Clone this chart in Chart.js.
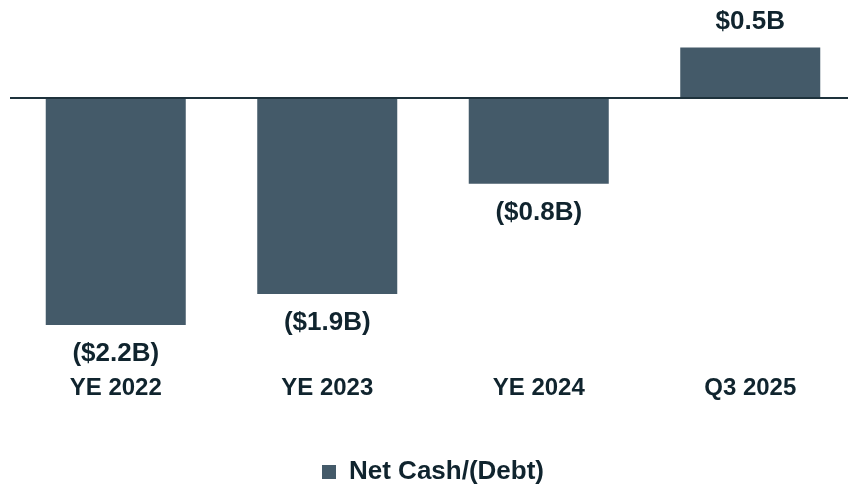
<!DOCTYPE html>
<html>
<head>
<meta charset="utf-8">
<script src="https://cdn.jsdelivr.net/npm/chart.js@4.4.1/dist/chart.umd.min.js"></script>
<style>
  html, body { margin: 0; padding: 0; background: #fff; overflow: hidden; }
  #wrap { width: 856px; height: 495px; }
</style>
</head>
<body>
<div id="wrap"><canvas id="myChart-NetCash"></canvas></div>
<script>
const periods = ['YE 2022', 'YE 2023', 'YE 2024', 'Q3 2025'];
const netCash = [-2.2, -1.9, -0.83, 0.49];
const valueLabels = ['($2.2B)', '($1.9B)', '($0.8B)', '$0.5B'];

const barColor = 'rgb(68, 90, 105)';
const textColor = 'rgb(16, 36, 46)';
const fontFamily = '"Liberation Sans", Arial, sans-serif';

// value labels under/over each bar, plus the zero line
const barLabels = {
  id: 'barLabels',
  afterDatasetsDraw(chart) {
    const ctx = chart.ctx;
    const y0 = chart.scales.y.getPixelForValue(0);
    ctx.save();
    ctx.strokeStyle = 'rgb(30, 50, 60)';
    ctx.lineWidth = 2;
    ctx.beginPath();
    ctx.moveTo(10, y0);
    ctx.lineTo(chart.width, y0);
    ctx.stroke();

    ctx.font = 'bold 26px ' + fontFamily;
    ctx.fillStyle = textColor;
    ctx.textAlign = 'center';
    ctx.textBaseline = 'middle';
    chart.getDatasetMeta(0).data.forEach((bar, i) => {
      const y = netCash[i] < 0 ? bar.y + 29 : bar.y - 26;
      ctx.fillText(valueLabels[i], bar.x, y);
    });
    ctx.restore();
  }
};

new Chart(document.getElementById('myChart-NetCash'), {
  type: 'bar',
  data: {
    labels: periods,
    datasets: [{
      label: 'Net Cash/(Debt)',
      data: netCash,
      backgroundColor: barColor,
      borderWidth: 0,
      categoryPercentage: 1,
      barPercentage: 0.662
    }]
  },
  options: {
    responsive: true,
    maintainAspectRatio: false,
    animation: false,
    layout: { padding: { left: 10, right: 0, top: 0, bottom: 0 } },
    plugins: {
      tooltip: { enabled: false },
      legend: {
        position: 'bottom',
        labels: {
          color: textColor,
          font: { family: fontFamily, size: 26, weight: 'bold' },
          boxWidth: 14,
          boxHeight: 14,
          padding: 8
        }
      }
    },
    scales: {
      x: {
        grid: { display: false, drawTicks: false },
        border: { display: false },
        ticks: {
          color: textColor,
          padding: 8,
          font: { family: fontFamily, size: 24, weight: 'bold' }
        },
        afterFit(scale) { scale.height += 40; }
      },
      y: {
        display: false,
        min: -2.6,
        max: 0.951
      }
    }
  },
  plugins: [barLabels]
});
</script>
</body>
</html>
